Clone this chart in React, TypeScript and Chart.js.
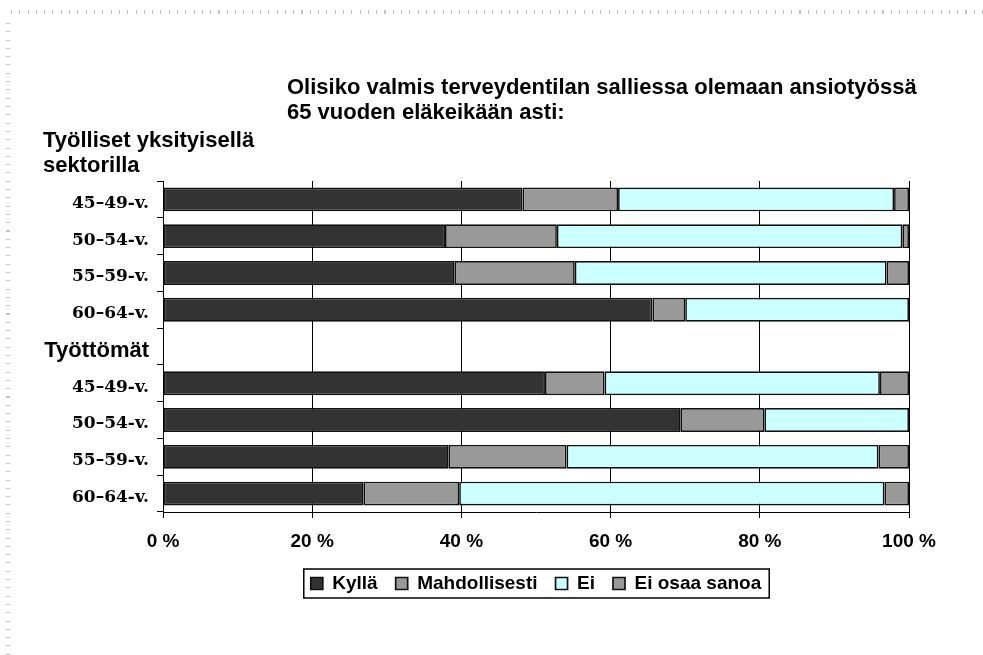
import React, { useEffect, useRef } from "react";
import { Chart, registerables } from "chart.js";

Chart.register(...registerables);

const titleLines = [
  "Olisiko valmis terveydentilan salliessa olemaan ansiotyössä",
  "65 vuoden eläkeikään asti:",
];
const groupTitleLines = ["Työlliset yksityisellä", "sektorilla"];

const categories = [
  "45–49-v.",
  "50–54-v.",
  "55–59-v.",
  "60–64-v.",
  "Työttömät",
  "45–49-v.",
  "50–54-v.",
  "55–59-v.",
  "60–64-v.",
];
const groupHeaderIndex = 4;

const seriesNames = ["Kyllä", "Mahdollisesti", "Ei", "Ei osaa sanoa"];
const kylla = [48.2, 37.8, 39.1, 65.6, null, 51.2, 69.4, 38.3, 26.9];
const mahdollisesti = [12.8, 15.0, 16.1, 4.4, null, 8.0, 11.2, 15.8, 12.8];
const ei = [37.0, 46.3, 41.8, 30.0, null, 36.9, 19.4, 41.8, 57.0];
const eiOsaaSanoa = [2.0, 0.9, 3.0, 0, null, 3.9, 0, 4.1, 3.3];

const xTickLabels = ["0 %", "20 %", "40 %", "60 %", "80 %", "100 %"];

const seriesColors = ["#333333", "#999999", "#CCFFFF", "#999999"];
const SANS = "'Liberation Sans', Arial, sans-serif";

const legendBorder = {
  id: "legendBorder",
  afterDraw(chart: any) {
    const lg = chart.legend;
    const hb = lg && lg.legendHitBoxes;
    if (!hb || !hb.length) return;
    const left = Math.min(...hb.map((h: any) => h.left)) - 7;
    const right = Math.max(...hb.map((h: any) => h.left + h.width)) + 8;
    const top = Math.min(...hb.map((h: any) => h.top)) - 5;
    const bottom = Math.max(...hb.map((h: any) => h.top + h.height)) + 5;
    const ctx = chart.ctx;
    ctx.save();
    ctx.strokeStyle = "#000";
    ctx.lineWidth = 1.5;
    ctx.strokeRect(left, top, right - left, bottom - top);
    ctx.restore();
  },
};

export default function App() {
  const ref = useRef<HTMLCanvasElement>(null);

  useEffect(() => {
    const values = [kylla, mahdollisesti, ei, eiOsaaSanoa];
    const chart = new Chart(ref.current as HTMLCanvasElement, {
      type: "bar",
      data: {
        labels: categories,
        datasets: values.map((v, i) => ({
          label: seriesNames[i],
          data: v,
          backgroundColor: seriesColors[i],
          borderColor: "#111111",
          borderWidth: 1.7,
          borderSkipped: false,
          categoryPercentage: 1,
          barPercentage: 0.65,
        })),
      } as any,
      plugins: [legendBorder],
      options: {
        indexAxis: "y",
        animation: false,
        responsive: true,
        maintainAspectRatio: false,
        layout: { padding: { left: 20, right: 74, top: 181, bottom: 52 } },
        scales: {
          x: {
            stacked: true,
            min: 0,
            max: 100,
            ticks: {
              stepSize: 20,
              color: "#000",
              padding: 12,
              font: { family: SANS, size: 19, weight: "bold" },
              callback: (_v: any, i: number) => xTickLabels[i],
            },
            grid: { color: "#000", lineWidth: 1, tickLength: 6, drawTicks: true },
            border: { color: "#000", width: 1 },
            afterFit: (s: any) => {
              s.height = 44;
            },
          },
          y: {
            stacked: true,
            ticks: {
              color: "#000",
              padding: 8,
              labelOffset: 4,
              font: (ctx: any) =>
                ctx.index === groupHeaderIndex
                  ? { family: SANS, size: 22, weight: "bold" }
                  : { family: "'DejaVu Serif', serif", size: 17, weight: "bold" },
            },
            grid: {
              drawOnChartArea: false,
              drawTicks: true,
              tickLength: 6,
              color: "#000",
              offset: true,
            },
            border: { color: "#000", width: 1 },
            afterFit: (s: any) => {
              s.width = 143;
            },
          },
        },
        plugins: {
          tooltip: { enabled: false },
          title: { display: false },
          legend: {
            position: "bottom",
            fullSize: false,
            labels: {
              boxWidth: 12,
              boxHeight: 12,
              padding: 18,
              color: "#000",
              font: { family: SANS, size: 19, weight: "bold" },
            },
          },
        },
      } as any,
    });
    return () => chart.destroy();
  }, []);

  const textStyle: React.CSSProperties = {
    position: "absolute",
    font: `bold 22px ${SANS}`,
    lineHeight: "25px",
    color: "#000",
    whiteSpace: "nowrap",
  };

  return (
    <div style={{ position: "fixed", left: 0, top: 0, width: 983, height: 655, background: "#fff" }}>
      <div style={{ position: "absolute", left: 0, top: 0, width: 983, height: 655 }}>
        <canvas ref={ref} />
      </div>
      <div
        style={{
          position: "absolute",
          left: 11,
          top: 10,
          width: 972,
          height: 4,
          background: "repeating-linear-gradient(to right, #c4c4c4 0px, #c4c4c4 1px, transparent 1px, transparent 8.3px)",
        }}
      />
      <div
        style={{
          position: "absolute",
          left: 6,
          top: 23,
          width: 4,
          height: 632,
          background: "repeating-linear-gradient(to bottom, #c4c4c4 0px, #c4c4c4 1px, transparent 1px, transparent 8.3px)",
        }}
      />
      <div style={{ ...textStyle, left: 287, top: 74 }}>
        {titleLines[0]}
        <br />
        {titleLines[1]}
      </div>
      <div style={{ ...textStyle, left: 43, top: 127 }}>
        {groupTitleLines[0]}
        <br />
        {groupTitleLines[1]}
      </div>
    </div>
  );
}
